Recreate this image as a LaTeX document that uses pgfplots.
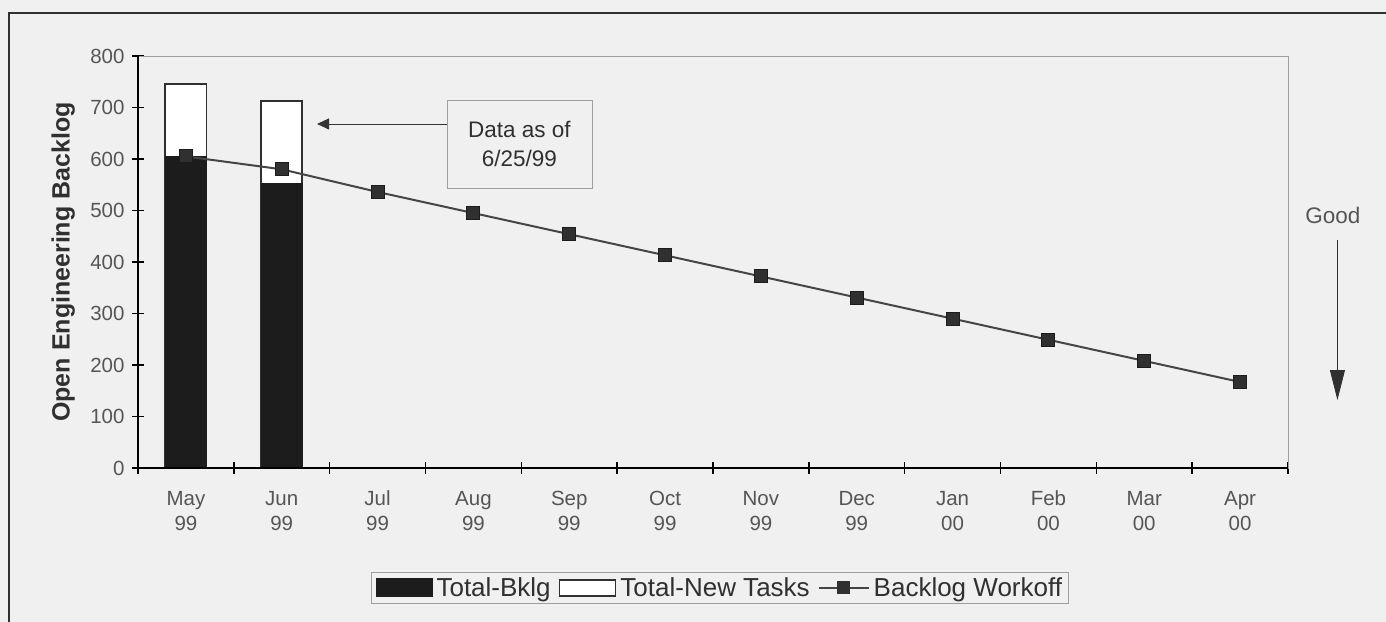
\documentclass[border=0pt]{standalone}
\usepackage{fontspec}
\setmainfont{Liberation Sans}
\usepackage{pgfplots}
\pgfplotsset{compat=1.18}
\usetikzlibrary{arrows.meta}

\definecolor{paper}{HTML}{F0F0F0}
\definecolor{ink}{HTML}{303030}
\definecolor{tickgray}{HTML}{555555}
\definecolor{barblack}{HTML}{1C1C1C}
\definecolor{linegray}{HTML}{454545}

\newcommand\tickfont{\fontsize{20.5bp}{25bp}\selectfont}
\newcommand\annfont{\fontsize{22.5bp}{29bp}\selectfont}
\newcommand\legfont{\fontsize{26bp}{30bp}\selectfont}
\newcommand\labfont{\fontsize{25bp}{28bp}\selectfont\bfseries}

\begin{document}
\begin{tikzpicture}
\fill[paper] (0,0) rectangle (1386bp,622bp);
\useasboundingbox (0,0) rectangle (1386bp,622bp);
% page frame
\draw[line width=2bp, ink] (9bp,0) -- (9bp,609bp) -- (1386bp,609bp);
\begin{axis}[
  at={(138bp,154bp)}, anchor=south west,
  scale only axis, width=1150bp, height=412bp,
  clip=false,
  xmin=-0.5, xmax=11.5, ymin=0, ymax=800,
  xtick={0,...,11},
  xticklabels={{\strut May\\\strut 99}, {\strut Jun\\\strut 99}, {\strut Jul\\\strut 99},
               {\strut Aug\\\strut 99}, {\strut Sep\\\strut 99}, {\strut Oct\\\strut 99},
               {\strut Nov\\\strut 99}, {\strut Dec\\\strut 99}, {\strut Jan\\\strut 00},
               {\strut Feb\\\strut 00}, {\strut Mar\\\strut 00}, {\strut Apr\\\strut 00}},
  xticklabel style={align=center, font=\tickfont, text=tickgray, anchor=north, yshift=-10bp},
  major x tick style={draw=none},
  minor xtick={-0.5,0.5,...,11.5},
  ytick={0,100,...,800},
  yticklabel style={font=\tickfont, text=tickgray, xshift=-4bp},
  /pgf/number format/assume math mode=true,
  xtick pos=left, ytick pos=left,
  tick align=center,
  major tick length=12bp, minor tick length=12bp,
  every tick/.style={black, line width=1.5bp},
  axis line style={draw=gray!75, line width=0.8bp},
  axis background/.style={fill=paper},
  ylabel={Open Engineering Backlog},
  ylabel style={font=\labfont, text=ink, at={(axis description cs:-0.065,0.5)}, anchor=center},
  legend columns=3,
  legend style={at={(0.506,-0.291)}, anchor=center, draw=gray!75, line width=0.8bp,
    fill=paper, font=\legfont, text=ink, inner xsep=4bp, inner ysep=3bp,
    /tikz/every odd column/.append style={column sep=2bp},
    /tikz/every even column/.append style={column sep=6bp}},
  legend cell align=left,
]
% total height of each bar (backlog + new tasks)
\addplot[ybar, bar width=0.43, bar shift=0pt, fill=white, draw=ink, line width=1.8bp, forget plot]
  coordinates {(0,745) (1,712)};
% existing backlog
\addplot[ybar, bar width=0.43, bar shift=0pt, fill=barblack, draw=barblack, line width=1.2bp, forget plot]
  coordinates {(0,605) (1,553)};
% planned workoff
\addplot[linegray, line width=2bp, mark=square*, mark size=6.5bp,
  mark options={fill=ink, draw=barblack, line width=1bp}, forget plot]
  coordinates {(0,605) (1,580) (2,536) (3,495) (4,454) (5,413) (6,372)
               (7,331) (8,290) (9,249) (10,208) (11,167)};

\addlegendimage{legend image code/.code={\draw[fill=barblack, draw=barblack] (0bp,-9bp) rectangle (56bp,9bp);}}
\addlegendentry{Total-Bklg}
\addlegendimage{legend image code/.code={\draw[fill=white, draw=ink, line width=1.8bp] (0bp,-8bp) rectangle (56bp,8bp);}}
\addlegendentry{Total-New Tasks}
\addlegendimage{legend image code/.code={%
  \draw[linegray, line width=2bp] (0bp,0bp) -- (50bp,0bp);
  \fill[ink] (19bp,-6bp) rectangle (31bp,6bp);}}
\addlegendentry{Backlog Workoff}

% axis lines drawn heavier on the left and bottom
\draw[black, line width=2bp] (rel axis cs:0,1) -- (rel axis cs:0,0) -- (rel axis cs:1,0);

% note on the data date
\node[draw=gray!75, line width=0.8bp, fill=paper, minimum width=145bp, minimum height=88bp,
  align=center, font=\annfont, text=ink] (note) at (axis cs:3.48,629) {Data as of\\6/25/99};
\draw[-{Triangle[length=12bp,width=11bp]}, gray!40!black, line width=0.9bp]
  (axis cs:2.724,668) -- (axis cs:1.368,668);

% direction of improvement
\node[font=\annfont, text=tickgray] at (axis description cs:1.039,0.614) {Good};
\draw[-{Triangle[length=30bp,width=15bp]}, ink, line width=0.8bp]
  (axis description cs:1.043,0.553) -- (axis description cs:1.043,0.165);
\end{axis}
\end{tikzpicture}
\end{document}
